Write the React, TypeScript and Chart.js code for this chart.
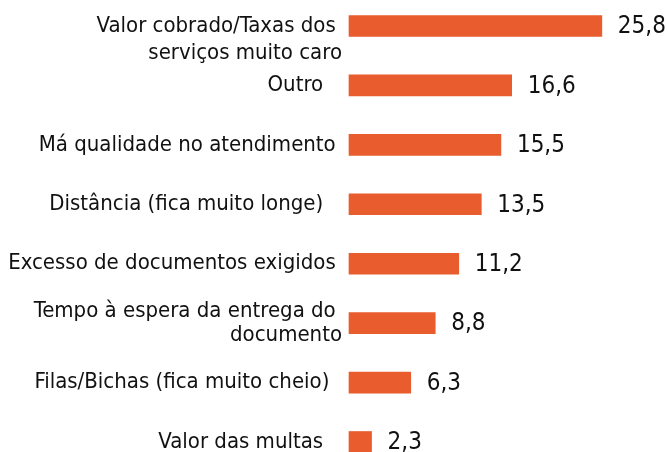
import React, { useEffect, useRef } from "react";
import { Chart, registerables } from "chart.js";

Chart.register(...registerables);

const categories: (string | string[])[] = [
  ["", "Valor cobrado/Taxas dos ", "serviços muito caro"],
  "Outro   ",
  "Má qualidade no atendimento ",
  "Distância (fica muito longe)   ",
  "Excesso de documentos exigidos ",
  ["Tempo à espera da entrega do ", "documento"],
  "Filas/Bichas (fica muito cheio)  ",
  "Valor das multas   ",
];
const values: number[] = [25.8, 16.6, 15.5, 13.5, 11.2, 8.8, 6.3, 2.3];
const valueLabels: string[] = ["25,8", "16,6", "15,5", "13,5", "11,2", "8,8", "6,3", "2,3"];

const FONT = "'DejaVu Sans Condensed', 'DejaVu Sans', sans-serif";
const BAR_COLOR = "#E95C2D";

const valueLabelPlugin = {
  id: "valueLabels",
  afterDatasetsDraw(chart: any) {
    const ctx = chart.ctx;
    const meta = chart.getDatasetMeta(0);
    ctx.save();
    ctx.font = `24px ${FONT}`;
    ctx.fillStyle = "#111111";
    ctx.textAlign = "left";
    ctx.textBaseline = "middle";
    meta.data.forEach((bar: any, i: number) => {
      ctx.fillText(valueLabels[i], bar.x + 16, bar.y + 1);
    });
    ctx.restore();
  },
};

export default function App() {
  const canvasRef = useRef<HTMLCanvasElement | null>(null);

  useEffect(() => {
    if (!canvasRef.current) return;
    const chart = new Chart(canvasRef.current, {
      type: "bar",
      data: {
        labels: categories,
        datasets: [
          {
            data: values,
            backgroundColor: BAR_COLOR,
            borderWidth: 0,
            barThickness: 21,
            clip: false as any,
          },
        ],
      },
      options: {
        indexAxis: "y",
        animation: false,
        responsive: false,
        maintainAspectRatio: false,
        layout: { padding: { top: 26, bottom: 10, left: 0, right: 25 } },
        plugins: {
          legend: { display: false },
          tooltip: { enabled: false },
        },
        scales: {
          x: {
            display: false,
            min: 0,
            max: 30,
          },
          y: {
            offset: false,
            grid: { display: false, drawTicks: false, tickLength: 0 },
            border: { display: false },
            afterFit: (scale: any) => {
              scale.width = 349;
              scale.paddingTop = 0;
              scale.paddingBottom = 0;
            },
            ticks: {
              padding: 7,
              color: "#111111",
              font: (ctx: any) => ({
                family: FONT,
                size: 22,
                lineHeight: ctx.index === 0 ? 1.25 : 1.08,
              }),
              autoSkip: false,
            },
          },
        },
      },
      plugins: [valueLabelPlugin],
    });
    return () => chart.destroy();
  }, []);

  return (
    <div style={{ position: "fixed", left: 0, top: 0, width: 668, height: 452, background: "#fff" }}>
      <canvas ref={canvasRef} width={668} height={452} style={{ display: "block" }} />
    </div>
  );
}
